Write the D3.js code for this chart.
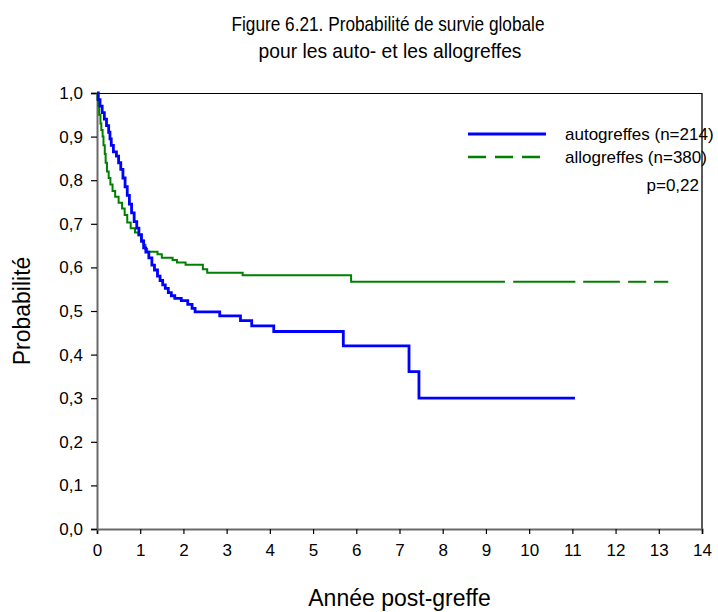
<html>
<head>
  <meta charset="UTF-8">
  <title>Figure 6.21</title>
  <script src="https://cdn.jsdelivr.net/npm/d3@7"></script>
  <style>
    body { margin: 0; background: #fff; }
    text { font-family: "Liberation Sans", Arial, sans-serif; fill: #000; }
  </style>
</head>
<body>
<svg width="718" height="612"></svg>
<script>
// survival steps [annee, probabilite]
var autoSteps = [[0,1.0],[0.03,0.985],[0.07,0.97],[0.12,0.955],[0.17,0.94],[0.22,0.925],[0.27,0.91],
  [0.3,0.895],[0.33,0.88],[0.38,0.865],[0.45,0.855],[0.5,0.84],[0.55,0.825],[0.6,0.805],[0.65,0.785],
  [0.7,0.765],[0.75,0.745],[0.8,0.725],[0.86,0.705],[0.92,0.69],[0.97,0.675],[1.03,0.66],[1.08,0.645],
  [1.13,0.635],[1.2,0.622],[1.27,0.605],[1.33,0.594],[1.4,0.58],[1.46,0.57],[1.52,0.56],[1.58,0.552],
  [1.65,0.542],[1.72,0.535],[1.8,0.529],[1.95,0.524],[2.1,0.515],[2.2,0.506],[2.27,0.498],[2.84,0.489],
  [3.32,0.478],[3.58,0.466],[4.09,0.453],[5.7,0.42],[7.22,0.361],[7.45,0.30],[11.06,0.30]];
var alloSteps = [[0,1.0],[0.01,0.985],[0.03,0.97],[0.05,0.95],[0.08,0.93],[0.1,0.915],[0.13,0.9],
  [0.15,0.88],[0.18,0.86],[0.2,0.84],[0.23,0.82],[0.27,0.805],[0.31,0.79],[0.36,0.775],[0.42,0.762],
  [0.5,0.748],[0.58,0.735],[0.64,0.72],[0.7,0.703],[0.78,0.69],[0.88,0.68],[0.96,0.673],[1.02,0.662],
  [1.08,0.652],[1.12,0.642],[1.16,0.636],[1.4,0.63],[1.5,0.622],[1.75,0.617],[1.85,0.611],[2.05,0.606],
  [2.45,0.596],[2.55,0.588],[3.37,0.582],[5.88,0.567],[9.44,0.567]];
// dashed tail of the allogreffes curve: [debut, fin] of each dash
var alloTail = [[9.63,11.07],[11.25,12.1],[12.29,12.71],[12.89,13.22]];
var xTicks = [0,1,2,3,4,5,6,7,8,9,10,11,12,13,14];
var yTicks = [0,0.1,0.2,0.3,0.4,0.5,0.6,0.7,0.8,0.9,1.0];
var legendLabels = ["autogreffes (n=214)", "allogreffes (n=380)"];
var pValue = "p=0,22";

var svg = d3.select("svg");
var plotLeft = 97, plotRight = 702, plotTop = 93, plotBottom = 529;

var x = d3.scaleLinear().domain([0, 14]).range([plotLeft, plotRight]);
var y = d3.scaleLinear().domain([0, 1]).range([plotBottom, plotTop]);

// title
svg.append("text").attr("x", 388).attr("y", 31).attr("text-anchor", "middle")
  .style("font-size", "21px").attr("textLength", 313).attr("lengthAdjust", "spacingAndGlyphs")
  .text("Figure 6.21. Probabilité de survie globale");
svg.append("text").attr("x", 390).attr("y", 58).attr("text-anchor", "middle")
  .style("font-size", "21px").attr("textLength", 263).attr("lengthAdjust", "spacingAndGlyphs")
  .text("pour les auto- et les allogreffes");

// frame top / right
svg.append("line").attr("x1", plotLeft).attr("x2", plotRight).attr("y1", plotTop + 0.5).attr("y2", plotTop + 0.5)
  .attr("stroke", "#000").attr("stroke-width", 1.2);
svg.append("line").attr("x1", plotRight).attr("x2", plotRight).attr("y1", plotTop).attr("y2", plotBottom)
  .attr("stroke", "#222").attr("stroke-width", 1.5);

// axes
var xAxis = svg.append("g").attr("transform", "translate(0," + plotBottom + ")")
  .call(d3.axisBottom(x).tickValues(xTicks).tickSize(5).tickPadding(10).tickFormat(d3.format("d")));
var yAxis = svg.append("g").attr("transform", "translate(" + plotLeft + ",0)")
  .call(d3.axisLeft(y).tickValues(yTicks).tickSize(6).tickPadding(8)
    .tickFormat(function(d) { return d3.format(".1f")(d).replace(".", ","); }));
[xAxis, yAxis].forEach(function(a) {
  a.select(".domain").attr("stroke", "#6a6a6a").attr("stroke-width", 2);
  a.selectAll(".tick line").attr("stroke", "#000").attr("stroke-width", 1.2);
  a.selectAll(".tick text").style("font-size", "17px").style("font-family", "Liberation Sans, Arial, sans-serif");
});

// axis labels
svg.append("text").attr("x", (plotLeft + plotRight) / 2).attr("y", 606).attr("text-anchor", "middle")
  .style("font-size", "23px").text("Année post-greffe");
svg.append("text").attr("transform", "translate(30," + ((plotTop + plotBottom) / 2) + ") rotate(-90)")
  .attr("text-anchor", "middle").style("font-size", "23px").text("Probabilité");

// curves
var line = d3.line().x(function(d) { return x(d[0]); }).y(function(d) { return y(d[1]); })
  .curve(d3.curveStepAfter);

svg.append("path").datum(alloSteps).attr("d", line)
  .attr("fill", "none").attr("stroke", "#008000").attr("stroke-width", 2);
var lastAllo = alloSteps[alloSteps.length - 1][1];
svg.selectAll(".tail").data(alloTail).enter().append("line")
  .attr("x1", function(d) { return x(d[0]); }).attr("x2", function(d) { return x(d[1]); })
  .attr("y1", y(lastAllo)).attr("y2", y(lastAllo))
  .attr("stroke", "#008000").attr("stroke-width", 2);

svg.append("path").datum(autoSteps).attr("d", line)
  .attr("fill", "none").attr("stroke", "#0000ff").attr("stroke-width", 2.8);

// legend
var legend = svg.append("g");
legend.append("line").attr("x1", 468).attr("x2", 546).attr("y1", 134).attr("y2", 134)
  .attr("stroke", "#0000ff").attr("stroke-width", 2.8);
legend.append("line").attr("x1", 468).attr("x2", 546).attr("y1", 157).attr("y2", 157)
  .attr("stroke", "#008000").attr("stroke-width", 2.5).attr("stroke-dasharray", "18,9");
legend.selectAll(".lab").data(legendLabels).enter().append("text")
  .attr("x", 565).attr("y", function(d, i) { return 140 + i * 23; })
  .style("font-size", "17px").text(function(d) { return d; });
legend.append("text").attr("x", 699).attr("y", 191).attr("text-anchor", "end")
  .style("font-size", "17px").text(pValue);
</script>
</body>
</html>
